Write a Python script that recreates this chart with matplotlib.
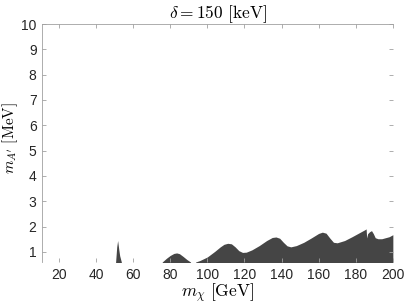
import numpy as np
import matplotlib
matplotlib.use("Agg")
import matplotlib.pyplot as plt

plt.rcParams['mathtext.fontset'] = 'cm'
plt.rcParams['font.family'] = ['Liberation Sans', 'DejaVu Sans']

# upper edge of the excluded region (m_chi [GeV], m_A' [MeV]); 0 = no region
m_chi = [11, 50.5, 50.6, 51.2, 51.7, 52.3, 52.8, 53.7, 53.8,
         75.6, 75.7, 78, 80, 82, 83.5, 85, 87, 89, 91, 91.1,
         93.6, 93.7, 96, 100, 104, 107, 109, 111, 113, 115, 117, 119, 121,
         124, 128, 132, 135, 137, 139, 141, 143, 145, 148, 152, 156, 160,
         162, 164, 166, 168, 170, 174, 178, 182, 185, 185.6, 185.9, 186.4,
         187.5, 188.5, 189.5, 190.5, 192, 194, 196, 198, 200]
m_A = [0, 0, 0.6, 1.2, 1.45, 1.1, 0.85, 0.6, 0,
       0, 0.6, 0.75, 0.86, 0.94, 0.96, 0.93, 0.82, 0.7, 0.6, 0,
       0, 0.6, 0.66, 0.8, 1.02, 1.2, 1.3, 1.34, 1.32, 1.2, 1.05, 0.98, 0.99,
       1.08, 1.25, 1.45, 1.57, 1.59, 1.54, 1.38, 1.24, 1.2, 1.25, 1.38, 1.55, 1.73,
       1.78, 1.74, 1.55, 1.38, 1.36, 1.45, 1.6, 1.76, 1.88, 1.91, 1.55, 1.72,
       1.8, 1.84, 1.72, 1.56, 1.52, 1.52, 1.56, 1.6, 1.68]

x_ticks = [20, 40, 60, 80, 100, 120, 140, 160, 180, 200]
y_ticks = [1, 2, 3, 4, 5, 6, 7, 8, 9, 10]

fig = plt.figure(figsize=(4.05, 3.04), dpi=100)
ax = fig.add_axes([0.104, 0.138, 0.866, 0.783])

ax.fill_between(m_chi, 0, m_A, color='#454545', linewidth=0, zorder=1)

ax.set_xlim(11, 200)
ax.set_ylim(0.6, 10)
ax.set_xticks(x_ticks)
ax.set_yticks(y_ticks)
ax.tick_params(direction='in', top=True, right=True, length=3, width=0.6,
               color='#a0a0a0', labelsize=10, labelcolor='#262626', pad=4)
for s in ['right', 'bottom']:
    ax.spines[s].set_visible(False)
for s in ['left', 'top']:
    ax.spines[s].set_color('#a0a0a0')
    ax.spines[s].set_linewidth(0.6)

ax.set_title(r'$\delta = 150\ [\mathrm{keV}]$', fontsize=12.5, pad=4)
ax.set_xlabel(r'$m_\chi\ [\mathrm{GeV}]$', fontsize=12.5, labelpad=0)
ax.set_ylabel(r"$m_{A'}\ [\mathrm{MeV}]$", fontsize=11)
ax.yaxis.set_label_coords(-0.062, 0.52)

fig.savefig('out.png', dpi=100)
